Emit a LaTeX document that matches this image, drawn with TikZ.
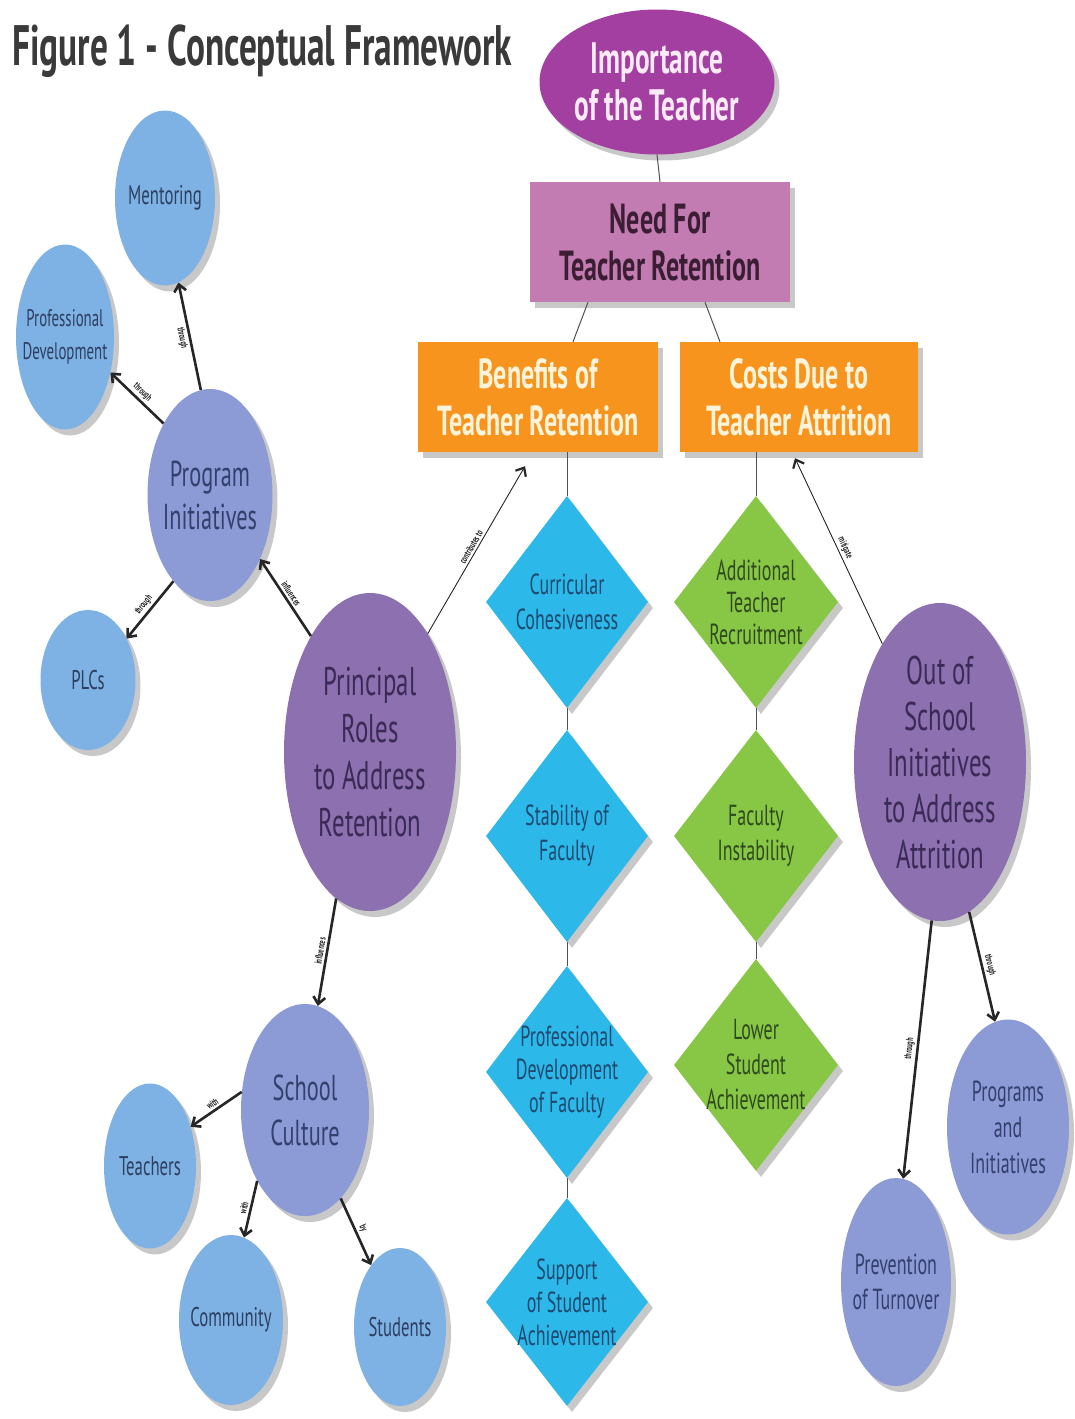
\documentclass[tikz,border=0pt]{standalone}
\usepackage{fontspec}
\setmainfont[FakeStretch=0.62]{PT Sans}
\usetikzlibrary{shapes.geometric,shadows,arrows.meta,calc}
\definecolor{impc}{HTML}{A23FA0}
\definecolor{impt}{HTML}{FCEAF6}
\definecolor{needc}{HTML}{C27CB2}
\definecolor{needt}{HTML}{3B1E33}
\definecolor{orgc}{HTML}{F7941E}
\definecolor{orgt}{HTML}{FFF4DA}
\definecolor{bluec}{HTML}{2DB8EA}
\definecolor{bluet}{HTML}{1F4A70}
\definecolor{greenc}{HTML}{88C645}
\definecolor{greent}{HTML}{2E4A1E}
\definecolor{purc}{HTML}{8C70B0}
\definecolor{purt}{HTML}{3A2A55}
\definecolor{perc}{HTML}{8C9AD6}
\definecolor{pert}{HTML}{33406E}
\definecolor{ltbc}{HTML}{7EB2E4}
\definecolor{ltbt}{HTML}{2D3F60}
\definecolor{titc}{HTML}{3A3A3A}
\definecolor{arrc}{HTML}{262626}
\newcommand{\fs}[2]{\fontsize{#1}{#2}\selectfont}
\begin{document}
\begin{tikzpicture}[x=1pt,y=-1pt,
  shd/.style={drop shadow={shadow xshift=5pt,shadow yshift=-6pt,opacity=0.3,fill=black!70}},
  ell/.style={ellipse,draw=none,inner sep=-14pt,align=center,shd},
  box/.style={rectangle,draw=none,inner sep=0pt,align=center,shd},
  dia/.style={diamond,draw=none,inner sep=-30pt,align=center,shd},
  arr/.style={draw=arrc,line width=2.6pt,-{Straight Barb[length=7pt,width=12pt]}},
  tarr/.style={draw=arrc,line width=0.9pt,-{Straight Barb[length=7pt,width=12pt,line width=2.2pt]}},
  conn/.style={draw=arrc!80,line width=1pt},
  elab/.style={sloped,above,font=\bfseries\fs{10}{10},inner sep=2pt,text=arrc}
]
\useasboundingbox (0,0) rectangle (1075,1419);
\fill[white] (0,0) rectangle (1075,1419);

% title
\node[anchor=base west,inner sep=0pt,text=titc,font=\bfseries\fs{57}{57}] (title) at (12,65) {Figure 1 - Conceptual Framework};

% top hierarchy
\node[ell,fill=impc,minimum width=235pt,minimum height=145pt,text=impt,font=\bfseries\fs{44}{47}] (imp) at (657,82) {Importance\\of the Teacher};
\node[box,fill=needc,minimum width=260pt,minimum height=120pt,text=needt,font=\bfseries\fs{42}{47}] (need) at (660,242) {Need For\\Teacher Retention};
\node[box,fill=orgc,minimum width=240pt,minimum height=110pt,text=orgt,font=\bfseries\fs{42}{47}] (ben) at (538,397) {Benefits of\\Teacher Retention};
\node[box,fill=orgc,minimum width=238pt,minimum height=110pt,text=orgt,font=\bfseries\fs{42}{47}] (cost) at (799,397) {Costs Due to\\Teacher Attrition};

\draw[conn] (imp.south) -- (need.north);
\draw[conn] ($(need.south)+(-72,0)$) -- ($(ben.north)+(35,0)$);
\draw[conn] ($(need.south)+(45,0)$) -- ($(cost.north)+(-79,0)$);

% blue diamonds
\node[dia,fill=bluec,minimum width=162pt,minimum height=212pt,text=bluet,font=\fs{29}{35}] (d1) at (567,602) {Curricular\\Cohesiveness};
\node[dia,fill=bluec,minimum width=162pt,minimum height=212pt,text=bluet,font=\fs{29}{35}] (d2) at (567,836) {Stability of\\Faculty};
\node[dia,fill=bluec,minimum width=162pt,minimum height=212pt,text=bluet,font=\fs{29}{33}] (d3) at (567,1072) {Professional\\Development\\of Faculty};
\node[dia,fill=bluec,minimum width=162pt,minimum height=208pt,text=bluet,font=\fs{29}{33}] (d4) at (567,1302) {Support\\of Student\\Achievement};
\draw[conn] (ben.south -| d1) -- (d1.north);
\draw[conn] (d1.south) -- (d2.north);
\draw[conn] (d2.south) -- (d3.north);
\draw[conn] (d3.south) -- (d4.north);

% green diamonds
\node[dia,fill=greenc,minimum width=164pt,minimum height=212pt,text=greent,font=\fs{29}{32}] (g1) at (756,602) {Additional\\Teacher\\Recruitment};
\node[dia,fill=greenc,minimum width=164pt,minimum height=212pt,text=greent,font=\fs{29}{35}] (g2) at (756,836) {Faculty\\Instability};
\node[dia,fill=greenc,minimum width=164pt,minimum height=212pt,text=greent,font=\fs{29}{35}] (g3) at (756,1065) {Lower\\Student\\Achievement};
\draw[conn] (cost.south -| g1) -- (g1.north);
\draw[conn] (g1.south) -- (g2.north);
\draw[conn] (g2.south) -- (g3.north);

% big ellipses
\node[ell,fill=purc,minimum width=172pt,minimum height=318pt,text=purt,font=\fs{40}{47}] (pr) at (370,752) {Principal\\Roles\\to Address\\Retention};
\node[ell,fill=purc,minimum width=172pt,minimum height=318pt,text=purt,font=\fs{40}{46}] (os) at (940,762) {Out of\\School\\Initiatives\\to Address\\Attrition};

% periwinkle ellipses
\node[ell,fill=perc,minimum width=125pt,minimum height=212pt,text=pert,font=\fs{36}{43}] (pg) at (210,495) {Program\\Initiatives};
\node[ell,fill=perc,minimum width=128pt,minimum height=212pt,text=pert,font=\fs{36}{45}] (sc) at (305,1110) {School\\Culture};
\node[ell,fill=perc,minimum width=122pt,minimum height=215pt,text=pert,font=\fs{29}{36}] (pi) at (1008,1127) {Programs\\and\\Initiatives};
\node[ell,fill=perc,minimum width=110pt,minimum height=208pt,text=pert,font=\fs{29}{35}] (pt) at (896,1282) {Prevention\\of Turnover};

% light blue ellipses
\node[ell,fill=ltbc,minimum width=100pt,minimum height=175pt,text=ltbt,font=\fs{27}{32}] (mt) at (165,198) {Mentoring};
\node[ell,fill=ltbc,minimum width=98pt,minimum height=185pt,text=ltbt,font=\fs{24}{33}] (pd) at (65,337) {Professional\\Development};
\node[ell,fill=ltbc,minimum width=95pt,minimum height=140pt,text=ltbt,font=\fs{27}{32}] (pl) at (88,680) {PLCs};
\node[ell,fill=ltbc,minimum width=92pt,minimum height=165pt,text=ltbt,font=\fs{27}{32}] (te) at (150,1166) {Teachers};
\node[ell,fill=ltbc,minimum width=104pt,minimum height=170pt,text=ltbt,font=\fs{27}{32}] (co) at (231,1320) {Community};
\node[ell,fill=ltbc,minimum width=92pt,minimum height=158pt,text=ltbt,font=\fs{27}{32}] (st) at (400,1327) {Students};

% arrows
\draw[tarr] (pr.64) -- ($(ben.south)+(-13,14)$) node[elab,midway] {contributes to};
\draw[tarr] (os.116) -- ($(cost.south)+(-4,6)$) node[elab,midway] {mitigate};
\draw[arr] (pg.95) -- (mt.-81) node[elab,midway,below] {through};
\draw[arr] (pg.123) -- (pd.-38) node[elab,midway] {through};
\draw[arr] (pg.247) -- (pl.47) node[elab,midway] {through};
\draw[arr] (pr.117) -- (pg.-52) node[elab,midway] {influences};
\draw[arr] (pr.-103) -- (sc.83) node[elab,midway] {influences};
\draw[arr] (sc.164) -- (te.44) node[elab,midway] {with};
\draw[arr] (sc.-124) -- (co.81) node[elab,midway] {with};
\draw[arr] (sc.-68) -- (st.115) node[elab,midway] {by};
\draw[arr] (os.-93) -- (pt.86) node[elab,midway] {through};
\draw[arr] (os.-79) -- (pi.97) node[elab,midway] {through};
\end{tikzpicture}
\end{document}
